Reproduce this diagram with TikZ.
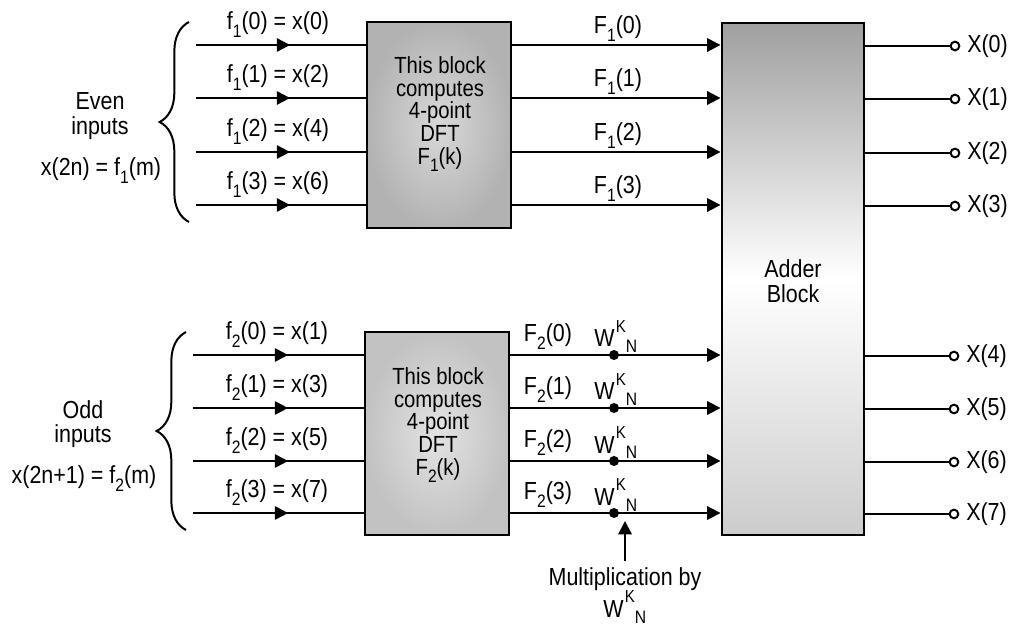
\documentclass[tikz,border=0pt]{standalone}
\usepackage{fontspec}
\setmainfont{Liberation Sans}[FakeStretch=0.87]
\usetikzlibrary{arrows.meta,decorations.pathreplacing,decorations.markings}
\newcommand{\lowsub}[1]{\raisebox{-0.32em}{\fontsize{13.5}{13.5}\selectfont #1}}
\newcommand{\WKN}{W\hspace{1pt}\raisebox{11pt}{\fontsize{13}{13}\selectfont K}\raisebox{-4.5pt}{\fontsize{13.5}{13.5}\selectfont N}}
\tikzset{
  lbl/.style={font=\fontsize{18.5}{18.5}\selectfont, inner sep=0pt},
  ln/.style={line width=1.5pt},
  arr/.style={ln, -{Triangle[length=10pt,width=10pt]}},
  midarr/.style={ln, postaction={decorate}, decoration={markings, mark=at position #1 with {\arrow{Triangle[length=10pt,width=10pt]}}}},
  midarr/.default=0.56,
  dftbox/.style={draw, line width=2.2pt, inner color=gray!30, outer color=gray!60, inner sep=0pt},
  dftboxb/.style={draw, line width=2.2pt, inner color=gray!22, outer color=gray!48, inner sep=0pt},
  adderbox/.style={draw, line width=2.2pt, top color=gray!75, bottom color=gray!40, middle color=white, inner sep=0pt},
  dotnode/.style={circle, fill=black, inner sep=0pt, minimum size=7.5pt},
  outcirc/.style={circle, draw, line width=1.5pt, fill=white, inner sep=0pt, minimum size=6.5pt},
  bracestyle/.style={line width=1.5pt, decorate, decoration={brace, amplitude=#1}},
  blocktext/.style={lbl, align=center, font=\fontsize{17.5}{17}\selectfont}
}
\begin{document}
\begin{tikzpicture}[x=0.75pt, y=-0.75pt]
\useasboundingbox[fill=white] (0,0) rectangle (1020,630);

% blocks
\node[dftbox, minimum width=108pt, minimum height=154.5pt] (dft1) at (439,125) {};
\node[dftboxb, minimum width=108pt, minimum height=152.25pt] (dft2) at (437,433.5) {};
\node[adderbox, minimum width=106.5pt, minimum height=384pt] (adder) at (793,279) {};

\node[blocktext] (t1) at (440,114) {This block\\computes\\4-point\\DFT\\F\lowsub{1}(k)};
\node[blocktext] (t2) at (438,425) {This block\\computes\\4-point\\DFT\\F\lowsub{2}(k)};
\node[lbl, align=center, font=\fontsize{18.5}{19}\selectfont] (tadd) at (793,281) {Adder\\Block};

% left side
\node[lbl, align=center, font=\fontsize{18.5}{18.5}\selectfont] (even) at (100,116) {Even\\inputs};
\node[lbl] (evenx) at (101,171) {x(2n) = f\lowsub{1}(m)};
\node[lbl, align=center, font=\fontsize{18.5}{18.5}\selectfont] (odd) at (83,424) {Odd\\inputs};
\node[lbl] (oddx) at (84,479) {x(2n+1) = f\lowsub{2}(m)};

\coordinate (br1a) at (189,222);
\coordinate (br1b) at (189,22);
\draw[bracestyle=22pt] (br1a) -- (br1b);
\coordinate (br2a) at (186,530);
\coordinate (br2b) at (186,332);
\draw[bracestyle=22pt] (br2a) -- (br2b);

% top rows
\foreach \y/\k/\n [count=\i] in {45/0/0, 98/1/2, 152/2/4, 205/3/6} {
  \coordinate (a\i) at (196,\y);
  \draw[midarr=0.555] (a\i) -- (dft1.west |- a\i);
  \node[lbl] (fa\i) at (278,\y-20) {f\lowsub{1}(\k) = x(\n)};
  \draw[arr] (dft1.east |- a\i) -- (adder.west |- a\i);
  \node[lbl] (Fa\i) at (618,\y-16) {F\lowsub{1}(\k)};
  \node[outcirc] (ca\i) at (955,\y+1) {};
  \draw[ln] (adder.east |- ca\i) -- (ca\i);
  \node[lbl, anchor=west] (Xa\i) at (967,\y+1) {X(\k)};
}

% bottom rows
\foreach \y/\k/\n/\m [count=\i] in {355/0/1/4, 408/1/3/5, 461/2/5/6, 513/3/7/7} {
  \coordinate (b\i) at (193,\y);
  \draw[midarr=0.558] (b\i) -- (dft2.west |- b\i);
  \node[lbl] (fb\i) at (277,\y-20) {f\lowsub{2}(\k) = x(\n)};
  \draw[arr] (dft2.east |- b\i) -- (adder.west |- b\i);
  \node[dotnode] (db\i) at (614,\y) {};
  \node[lbl] (Fb\i) at (548,\y-18) {F\lowsub{2}(\k)};
  \node[lbl, anchor=base west] (wb\i) at (594,\y-8) {\WKN};
  \node[outcirc] (cb\i) at (954,\y+1) {};
  \draw[ln] (adder.east |- cb\i) -- (cb\i);
  \node[lbl, anchor=west] (Xb\i) at (966,\y+1) {X(\m)};
}

% multiplication note
\node[lbl] (mult) at (625,579) {Multiplication by};
\node[lbl, anchor=base west] (multw) at (603,617) {\WKN};
\coordinate (mtip) at (625,521);
\draw[arr, shorten <=5pt] (mult.north) -- (mtip);
\end{tikzpicture}
\end{document}
